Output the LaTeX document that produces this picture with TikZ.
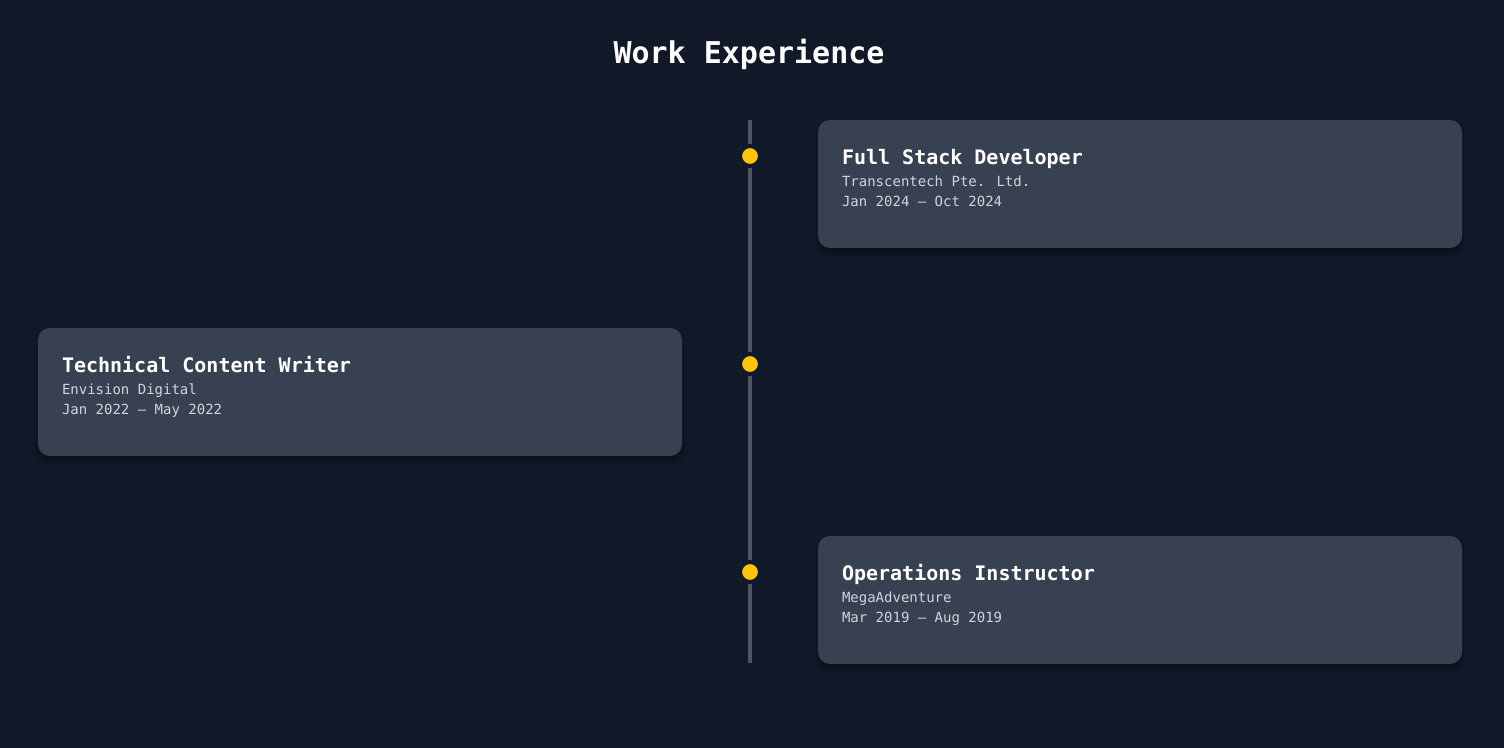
\documentclass[tikz,border=0pt]{standalone}
\usepackage{fontspec}
\setmainfont{DejaVu Sans Mono}
\usetikzlibrary{calc}
\usetikzlibrary{shadows.blur}
\definecolor{pagebg}{HTML}{111827}
\definecolor{cardbg}{HTML}{374151}
\definecolor{linegray}{HTML}{4B5563}
\definecolor{dotyellow}{HTML}{FFC609}
\definecolor{subtext}{HTML}{D1D5DB}

\begin{document}
\begin{tikzpicture}[x = 0.5pt, y = -0.5pt,
    card/.style = {fill = cardbg, rounded corners = 6pt, inner sep = 0pt,
        minimum width = 322pt, minimum height = 64pt,
        blur shadow = {shadow xshift = 0pt, shadow yshift = -3pt, shadow opacity = 35, shadow blur steps = 8}},
    role/.style = {anchor = base west, inner sep = 0pt, text = white,
        font = \bfseries\fontsize{10}{12}\selectfont},
    info/.style = {anchor = base west, inner sep = 0pt, text = subtext,
        font = \fontsize{7}{8}\selectfont},
    dot/.style = {circle, fill = dotyellow, draw = pagebg, line width = 2pt,
        minimum size = 10pt, inner sep = 0pt}]

    \fill[pagebg] (0,0) rectangle (1504,748);
    \useasboundingbox (0,0) rectangle (1504,748);

    \node[text = white, font = \bfseries\fontsize{15}{18}\selectfont, anchor = base] (heading) at (749,64) {Work Experience};

    % timeline
    \coordinate (linetop) at (750,120);
    \coordinate (linebot) at (750,663);
    \draw[linegray, line width = 2pt] (linetop) -- (linebot);

    \foreach \i/\cx/\cy/\role/\org/\period in {
        1/1140/184/Full Stack Developer/Transcentech Pte. Ltd./Jan 2024 – Oct 2024,
        2/360/392/Technical Content Writer/Envision Digital/Jan 2022 – May 2022,
        3/1140/600/Operations Instructor/MegaAdventure/Mar 2019 – Aug 2019}{
        \node[card] (card\i) at (\cx,\cy) {};
        \node[role] (role\i) at ([xshift = 12pt, yshift = -22.5pt]card\i.north west) {\role};
        \node[info] (org\i) at ([yshift = -11pt]role\i.base west) {\org};
        \node[info] (period\i) at ([yshift = -10pt]org\i.base west) {\period};

        \pgfmathsetmacro\dy{\cy-28}
        \node[dot] (dot\i) at (750,\dy) {};
    }
\end{tikzpicture}
\end{document}
